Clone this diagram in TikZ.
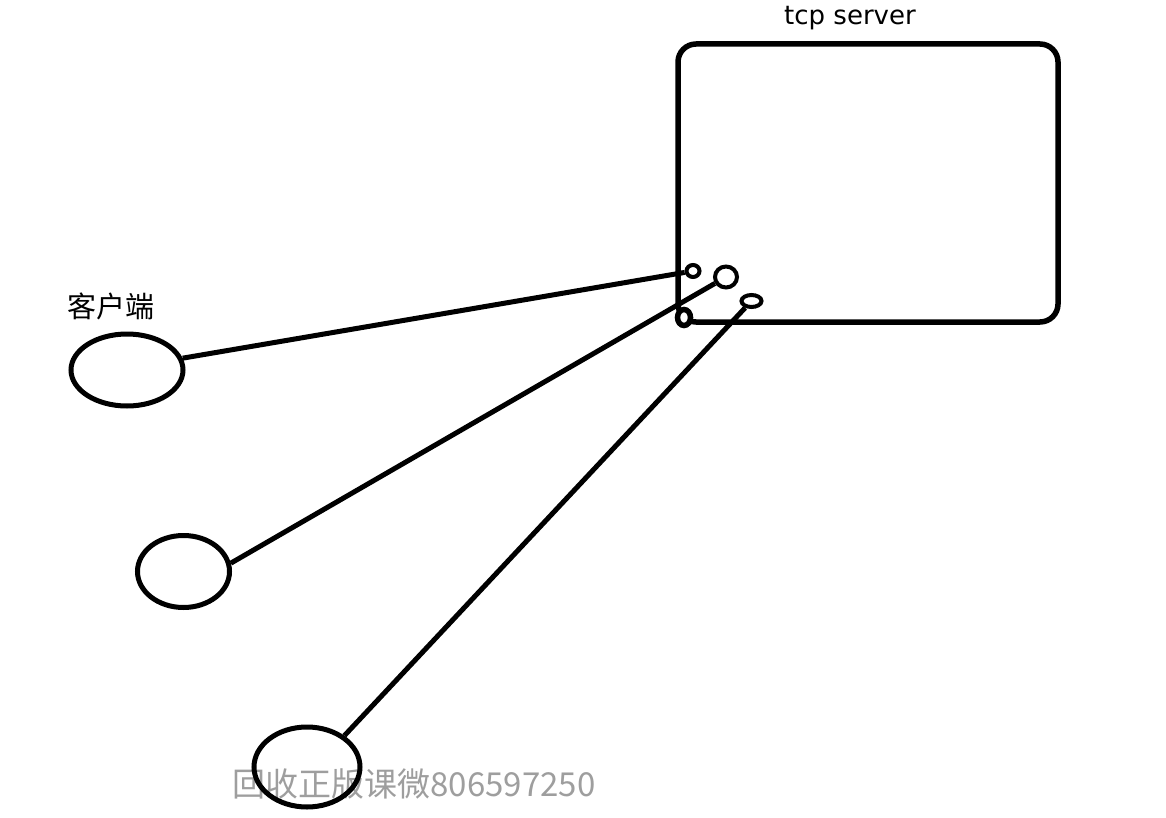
\documentclass[tikz,border=0pt]{standalone}
\usepackage{fontspec}
\setsansfont{DejaVu Sans}
\newfontfamily\cjk{Noto Sans CJK SC}
\usepackage{tikz}
\usetikzlibrary{shapes}
\usetikzlibrary{positioning}
\tikzstyle{client} = [ellipse, draw=black, line width=5pt, inner sep=0pt]
\tikzstyle{port} = [ellipse, draw=black, fill=white, line width=4pt, inner sep=0pt]
\tikzstyle{link} = [draw, line width=5pt]

\begin{document}
\begin{tikzpicture}[
            x=1pt, y=-1pt,
            every node/.style={font=\sffamily}
        ]
            \useasboundingbox (0,0) rectangle (1166,818);
            \node [text=black!38, anchor=base west, font=\cjk\fontsize{33}{36}\selectfont] (mark) at (229,796) {回收正版课微806597250};
            \node [draw, line width=5.5pt, rounded corners=18pt, minimum width=380pt, minimum height=278pt, inner sep=0pt] (server) at (868,183) {};
            \node [anchor=base, font=\sffamily\fontsize{26}{30}\selectfont] (title) at (850,25) {tcp server};
            \node [client, minimum width=112pt, minimum height=72pt] (client1) at (127,370) {};
            \node [client, minimum width=92pt, minimum height=72pt] (client2) at (183.5,571.5) {};
            \node [client, minimum width=106pt, minimum height=80pt] (client3) at (307,767) {};
            \node [font=\cjk\fontsize{29}{32}\selectfont] (clientlabel) at (111,306) {客户端};
            \node [port, minimum width=13pt, minimum height=12pt] (portA) at (693,271) {};
            \node [port, minimum width=22pt, minimum height=21pt] (portB) at (726,277) {};
            \node [port, minimum width=20pt, minimum height=12pt] (portC) at (751.5,301) {};
            \node [port, line width=5.5pt, minimum width=13pt, minimum height=16pt] (portD) at (684,317.5) {};
            \path [link] (client1.12) -- (portA);
            \path [link] (client2.10) -- (portB);
            \path [link] (client3.40) -- (portC);
        \end{tikzpicture}
\end{document}
